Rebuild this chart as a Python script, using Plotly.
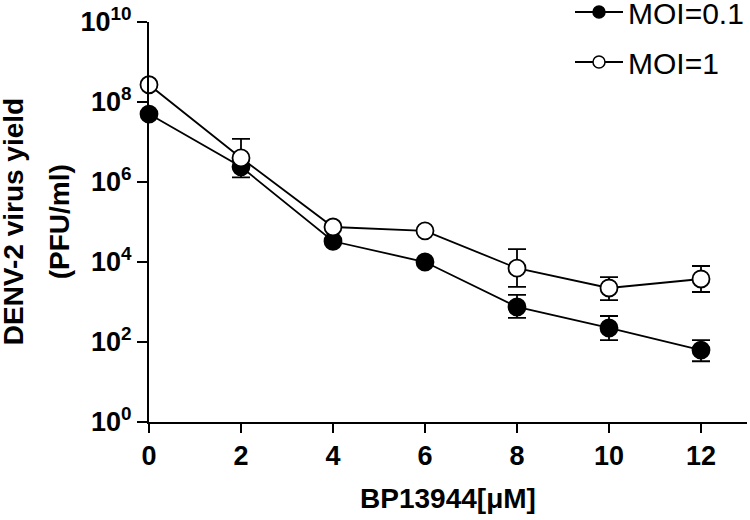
import plotly.graph_objects as go

# BP13944 concentration (uM)
conc = [0, 2, 4, 6, 8, 10, 12]

# MOI=0.1 (filled circles): mean, lower and upper error bounds (PFU/ml)
moi01_mean = [5.0e7, 2.4e6, 3.3e4, 1.0e4, 750, 224, 63]
moi01_low = [5.0e7, 1.3e6, 3.3e4, 1.0e4, 400, 112, 33]
moi01_high = [5.0e7, 3.5e6, 3.3e4, 1.0e4, 1500, 447, 112]

# MOI=1 (open circles)
moi1_mean = [2.7e8, 4.0e6, 7.5e4, 6.0e4, 7.0e3, 2240, 3760]
moi1_low = [2.7e8, 2.5e6, 7.5e4, 6.0e4, 2.4e3, 1120, 1780]
moi1_high = [2.7e8, 1.2e7, 7.5e4, 6.0e4, 2.1e4, 4200, 7940]

y_tickvals = [1, 1e2, 1e4, 1e6, 1e8, 1e10]
y_ticktext = ["10<sup>0</sup>", "10<sup>2</sup>", "10<sup>4</sup>",
              "10<sup>6</sup>", "10<sup>8</sup>", "10<sup>10</sup>"]
x_tickvals = [0, 2, 4, 6, 8, 10, 12]

FONT = "Arial, Liberation Sans, sans-serif"


def err(mean, low, high):
    plus = [h - m for m, h in zip(mean, high)]
    minus = [m - l for m, l in zip(mean, low)]
    return dict(type="data", symmetric=False, array=plus, arrayminus=minus,
                color="black", thickness=1.8, width=9)


series = [
    ("MOI=0.1", moi01_mean, moi01_low, moi01_high, "black", "a"),
    ("MOI=1", moi1_mean, moi1_low, moi1_high, "white", "b"),
]

fig = go.Figure()

for name, mean, low, high, fill, grp in series:
    fig.add_trace(go.Scatter(
        x=conc, y=mean, name=name, mode="lines+markers",
        legendgroup=grp, showlegend=False,
        line=dict(color="black", width=1.8),
        marker=dict(symbol="circle", size=17, color=fill,
                    line=dict(color="black", width=1.8)),
        error_y=err(mean, low, high),
        cliponaxis=False,
    ))
    # legend-only entry with the smaller key marker used in the figure
    fig.add_trace(go.Scatter(
        x=[None], y=[None], name=name, mode="lines+markers",
        legendgroup=grp, showlegend=True,
        line=dict(color="black", width=1.8),
        marker=dict(symbol="circle", size=12, color=fill,
                    line=dict(color="black", width=1.5)),
    ))

fig.update_layout(
    width=750, height=520,
    margin=dict(l=149, r=3, t=22, b=98, autoexpand=False),
    plot_bgcolor="white", paper_bgcolor="white",
    font=dict(family=FONT, color="black"),
    showlegend=True,
    legend=dict(xref="container", yref="paper",
                x=0.76, y=1.09, xanchor="left", yanchor="top",
                font=dict(size=30, family=FONT, color="black"),
                bgcolor="rgba(0,0,0,0)", traceorder="grouped",
                tracegroupgap=8, itemwidth=48),
)

# y axis title as two rotated lines
fig.add_annotation(text="<b>DENV-2 virus yield</b>", textangle=-90,
                   xref="paper", yref="paper", x=-0.227, y=0.5,
                   xanchor="center", yanchor="middle", showarrow=False,
                   font=dict(size=28, family=FONT, color="black"))
fig.add_annotation(text="<b>(PFU/ml)</b>", textangle=-90,
                   xref="paper", yref="paper", x=-0.150, y=0.5,
                   xanchor="center", yanchor="middle", showarrow=False,
                   font=dict(size=28, family=FONT, color="black"))

fig.update_xaxes(
    range=[0, 13], tickvals=x_tickvals,
    showline=True, linecolor="black", linewidth=2,
    ticks="outside", ticklen=9, tickwidth=2, tickcolor="black",
    showgrid=False, zeroline=False,
    tickfont=dict(size=27, family=FONT, weight="bold"),
    title=dict(text="<b>BP13944[μM]</b>", font=dict(size=28, family=FONT),
               standoff=18),
)

fig.update_yaxes(
    type="log", range=[0, 10], tickvals=y_tickvals, ticktext=y_ticktext,
    showline=True, linecolor="black", linewidth=2,
    ticks="outside", ticklen=10, tickwidth=2, tickcolor="black",
    showgrid=False, zeroline=False,
    tickfont=dict(size=27, family=FONT, weight="bold"),
)

# drop the default page margin so the figure sits at the window corner
fig.write_html("out.html", config={"displayModeBar": False},
               post_script="document.body.style.margin='0';")
